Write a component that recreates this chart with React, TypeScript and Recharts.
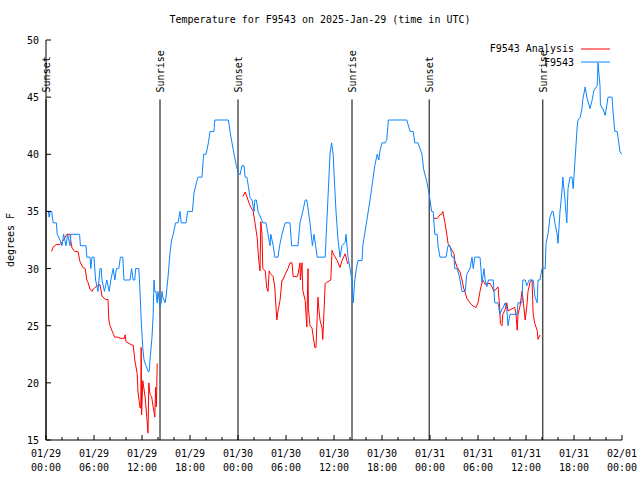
import React from 'react';
import { LineChart, Line, XAxis, YAxis, ReferenceLine } from 'recharts';

const FONT = "'DejaVu Sans Mono', monospace";
const FS = 10;

// hours since 2025-01-29 00:00 UTC, degrees F
const obsPoints: [number, number][] = [
  [0, 35], [0.3, 35], [0.4, 34.5], [0.5, 35], [0.7, 35], [0.9, 34], [1.3, 34], [1.4, 33], [1.75, 32.5], [2.0, 32],
  [2.2, 33], [2.5, 32], [2.7, 33], [3.0, 32], [3.1, 33], [4.2, 33], [4.3, 32], [5.0, 32], [5.1, 31], [5.5, 31],
  [5.6, 30], [5.75, 31], [6.0, 31], [6.2, 29], [6.5, 28], [6.75, 30], [6.9, 30], [7.0, 29], [7.3, 28], [7.6, 29],
  [7.9, 28], [8.1, 29], [8.4, 30], [8.6, 29], [8.8, 30], [9.1, 30], [9.3, 31], [9.6, 31], [9.75, 29], [10.5, 29],
  [10.7, 30], [10.9, 29], [11.1, 29], [11.2, 30], [11.6, 30], [11.75, 28], [11.9, 25.5], [12.1, 23], [12.25, 22],
  [12.5, 21.5], [12.75, 21], [12.9, 21], [13.0, 22], [13.25, 24], [13.4, 26], [13.5, 29], [13.6, 28], [13.75, 28],
  [13.9, 27], [14.0, 28], [14.25, 26.7], [14.4, 27], [14.5, 28], [14.6, 27.5], [14.9, 27], [15.0, 27.5], [15.3, 29.6],
  [15.5, 31.4], [15.7, 32.5], [15.9, 33], [16.2, 34], [16.5, 34], [16.75, 35], [16.9, 34], [17.5, 34], [17.7, 35],
  [18.3, 35], [18.5, 36.6], [18.8, 37.5], [19.0, 38], [19.5, 38], [19.7, 40], [20.0, 40], [20.3, 41], [20.5, 42],
  [21.0, 42], [21.1, 43], [22.8, 43], [23.0, 42], [23.4, 40.4], [23.8, 39], [24.0, 38.4], [24.25, 38.2], [24.5, 39],
  [24.75, 39], [24.9, 38], [25.1, 38], [25.3, 37.2], [25.5, 36.2], [25.75, 36], [26.0, 35], [26.1, 36], [26.3, 36],
  [26.5, 35], [27.0, 34.2], [27.1, 34], [27.5, 34], [27.75, 33], [28.0, 32], [28.1, 33], [28.4, 32], [28.6, 31],
  [29.0, 31], [29.2, 32], [29.5, 33], [29.9, 34], [30.5, 34], [30.7, 32], [31.5, 32], [31.75, 34], [32.1, 35],
  [32.4, 36], [32.6, 36], [32.8, 35], [33.0, 34], [33.3, 32], [33.5, 33], [33.7, 32], [33.9, 31], [34.9, 31],
  [35.1, 34], [35.3, 37], [35.5, 40], [35.7, 41], [35.9, 40], [36.1, 37], [36.25, 35], [36.5, 32.5], [36.75, 31],
  [37.0, 32], [37.4, 32.3], [37.5, 33], [37.75, 31], [38.0, 30], [38.25, 29], [38.4, 27], [38.6, 29], [38.8, 30],
  [39.0, 30.7], [39.5, 30.7], [39.6, 32], [40.1, 34.2], [40.5, 36], [40.9, 38], [41.1, 39], [41.4, 40], [41.6, 39.5],
  [41.75, 40.3], [42.0, 41], [42.4, 41], [42.6, 41.3], [42.8, 43], [45.1, 43], [45.5, 42], [45.9, 42], [46.1, 41],
  [46.5, 41], [46.75, 40.5], [47.0, 40], [47.2, 38.7], [47.6, 37.6], [47.9, 36.5], [48.0, 36], [48.2, 35], [48.4, 35],
  [48.6, 33], [48.9, 33], [49.0, 32], [49.25, 31], [50.0, 31], [50.25, 32], [50.5, 32], [50.75, 31], [51.0, 31],
  [51.1, 30], [51.4, 30], [51.6, 29.5], [51.75, 29], [52.0, 28], [52.4, 28], [52.6, 29.5], [53.0, 30], [53.25, 31],
  [53.4, 30], [53.6, 31], [54.25, 31], [54.5, 28.8], [54.6, 29.2], [54.75, 30], [54.9, 29], [55.1, 28.4], [55.3, 29],
  [55.9, 29], [56.1, 27], [56.5, 27], [56.75, 26], [57.0, 26.5], [57.1, 26.5], [57.4, 27], [57.6, 26.5], [57.75, 25],
  [58.0, 26], [58.9, 26], [59.0, 27], [59.5, 27], [59.6, 29], [59.9, 29], [60.1, 28.5], [60.4, 29], [60.9, 29],
  [61.1, 27.6], [61.4, 27], [61.5, 29], [61.75, 29], [62.0, 30], [62.4, 30], [62.5, 32.2], [62.75, 33], [63.0, 34.5],
  [63.25, 35], [63.4, 35], [63.6, 34], [63.9, 33], [64.0, 32.2], [64.25, 35], [64.5, 36.8], [64.6, 38], [64.9, 35.8],
  [65.1, 34], [65.25, 37], [65.5, 38], [65.75, 38], [65.9, 37], [66.1, 39.2], [66.4, 42.4], [66.5, 43], [66.75, 43.2],
  [67.0, 44], [67.1, 44.8], [67.4, 45.9], [67.6, 45], [68.0, 44], [68.25, 44.7], [68.5, 45.6], [68.9, 46], [69.0, 48],
  [69.25, 46], [69.3, 44.4], [69.5, 44], [69.6, 44], [69.9, 43.4], [70.1, 44.3], [70.25, 45], [70.75, 45], [70.9, 43.6],
  [71.1, 42], [71.4, 42], [71.5, 41.5], [71.75, 40.2], [72.0, 40],
];

const analysisPart1: [number, number][] = [
  [0.7, 31.5], [0.9, 31.9], [1.3, 32.1], [1.75, 32.1], [2.2, 32.5], [2.6, 33], [3.0, 33], [3.1, 32.4], [3.25, 31.8],
  [3.6, 31.5], [4.0, 31.5], [4.25, 30.6], [4.6, 30.1], [4.9, 30], [5.1, 29], [5.25, 28.8], [5.5, 28.2], [5.75, 28],
  [5.9, 28.2], [6.4, 28.5], [6.75, 28.6], [7.0, 27.6], [7.4, 27.3], [7.75, 27.3], [7.85, 25.5], [8.0, 25], [8.4, 24.3],
  [8.6, 24], [9.0, 24], [9.25, 23.9], [9.8, 23.9], [9.9, 24.2], [10.0, 23.6], [10.75, 23.3], [10.9, 23.3], [11.1, 22],
  [11.4, 20.8], [11.5, 19.2], [11.75, 17.8], [11.85, 17.8], [11.9, 23.1], [11.95, 17.2], [12.1, 20.2], [12.4, 18.7],
  [12.6, 17], [12.75, 15.6], [12.85, 20.0], [13.0, 19], [13.2, 18.8], [13.4, 17.9], [13.6, 17.0], [13.7, 19.6],
  [13.8, 17.9], [13.9, 21.7],
];

const analysisPart2: [number, number][] = [
  [24.6, 36.3], [24.9, 36.7], [25.1, 36.3], [25.5, 35.5], [25.75, 35.2], [25.9, 35], [26.1, 34.1], [26.4, 32.7],
  [26.5, 31.6], [26.6, 30.7], [26.75, 29.8], [26.85, 34.1], [27.0, 33], [27.1, 30], [27.4, 29.8], [27.6, 28.3],
  [27.75, 28], [27.9, 29.8], [28.0, 29.6], [28.4, 29.3], [28.6, 28.3], [28.85, 25.5], [29.0, 26.3], [29.25, 27.2],
  [29.5, 29], [29.6, 29], [29.9, 29.5], [30.25, 30], [30.5, 30.5], [30.75, 30.5], [30.9, 29.3], [31.4, 29.3],
  [31.5, 29.5], [31.75, 30.5], [31.8, 29], [32.0, 30.5], [32.1, 28.1], [32.4, 27.2], [32.6, 24.9], [32.75, 30],
  [32.8, 26.5], [33.0, 25], [33.25, 24.8], [33.6, 23.1], [33.75, 23.1], [33.9, 25.8], [34.0, 27.5], [34.1, 26.5],
  [34.25, 25.5], [34.5, 24.8], [34.6, 23.8], [34.9, 28.7], [35.1, 28.8], [35.6, 29], [35.75, 31.6], [35.9, 31.3],
  [36.4, 30.7], [36.75, 30.1], [37.0, 30.7], [37.4, 31.3], [37.6, 30.7], [37.75, 30.4],
];

const analysisPart3: [number, number][] = [
  [48.4, 34.4], [48.9, 34.4], [49.25, 34.7], [49.5, 34.8], [49.6, 35], [49.9, 33.9], [50.1, 33], [50.25, 32.2],
  [50.5, 31.9], [51.0, 31.3], [51.1, 30.7], [51.4, 30.1], [51.75, 29.7], [52.0, 29], [52.2, 28.3], [52.4, 27.9],
  [52.6, 27.4], [53.0, 27], [53.4, 26.7], [53.75, 26.6], [54.0, 27], [54.25, 28], [54.5, 28.8], [54.6, 29],
  [54.9, 28.6], [55.1, 28.7], [55.5, 28.7], [55.75, 28.4], [56.0, 28], [56.5, 28.4], [56.7, 26.7], [56.8, 25.2],
  [57.0, 25], [57.1, 26], [57.4, 26.4], [57.6, 27], [57.75, 26.3], [58.6, 26.6], [58.75, 26], [58.9, 24.6], [59.0, 26],
  [59.25, 26.7], [59.5, 28], [59.6, 27.5], [59.9, 25.5], [60.1, 26.7], [60.25, 28], [60.5, 28.8], [60.75, 29],
  [60.9, 26], [61.1, 25.2], [61.4, 24.6], [61.5, 23.8], [61.75, 24.2],
];

const xTickHours = [0, 2, 4, 6, 8, 10, 12, 14, 16, 18, 20, 22, 24, 26, 28, 30, 32, 34, 36, 38, 40, 42, 44, 46, 48, 50, 52, 54, 56, 58, 60, 62, 64, 66, 68, 70, 72];
const xDateLabels = ['01/29', '01/29', '01/29', '01/29', '01/30', '01/30', '01/30', '01/30', '01/31', '01/31', '01/31', '01/31', '02/01'];
const xTimeLabels = ['00:00', '06:00', '12:00', '18:00', '00:00', '06:00', '12:00', '18:00', '00:00', '06:00', '12:00', '18:00', '00:00'];
const yTickValues = [15, 20, 25, 30, 35, 40, 45, 50];

const sunTimes = [0, 14.25, 24, 38.25, 47.9, 62.1];
const sunLabels = ['Sunset', 'Sunrise', 'Sunset', 'Sunrise', 'Sunset', 'Sunrise'];
const sunLineTop = 44.8;

const toRows = (pts: [number, number][]) => pts.map(([t, v]) => ({ t, v }));

const RED = '#ff0000';
const BLUE = '#0a84ff';

const BottomTick = (props: any) => {
  const { x, y, payload } = props;
  const major = payload.value % 6 === 0;
  const idx = payload.value / 6;
  return (
    <g>
      <line x1={x} x2={x} y1={y} y2={y - (major ? 5 : 3)} stroke="#000" />
      {major && (
        <text x={x} y={y + 17} textAnchor="middle" fontFamily={FONT} fontSize={FS} fill="#000">
          <tspan x={x}>{xDateLabels[idx]}</tspan>
          <tspan x={x} dy={14}>{xTimeLabels[idx]}</tspan>
        </text>
      )}
    </g>
  );
};

const TopTick = (props: any) => {
  const { x, y, payload } = props;
  const major = payload.value % 6 === 0;
  return <line x1={x} x2={x} y1={y} y2={y + (major ? 5 : 3)} stroke="#000" />;
};

const LeftTick = (props: any) => {
  const { x, y, payload } = props;
  return (
    <g>
      <line x1={x} x2={x + 5} y1={y} y2={y} stroke="#000" />
      <text x={x - 7} y={y + 4} textAnchor="end" fontFamily={FONT} fontSize={FS} fill="#000">{payload.value}</text>
    </g>
  );
};

const RightTick = (props: any) => {
  const { x, y } = props;
  return <line x1={x} x2={x - 5} y1={y} y2={y} stroke="#000" />;
};

const sunLabel = (text: string) => (p: any) => {
  const vb = p.viewBox;
  const lx = vb.x + 4;
  const ly = vb.y - 7;
  return (
    <text x={lx} y={ly} transform={`rotate(-90, ${lx}, ${ly})`} textAnchor="start" fontFamily={FONT} fontSize={FS} fill="#000">
      {text}
    </text>
  );
};

const yLabel = (p: any) => {
  const vb = p.viewBox;
  const lx = vb.x + 14;
  const ly = vb.y + vb.height / 2;
  return (
    <text x={lx} y={ly} transform={`rotate(-90, ${lx}, ${ly})`} textAnchor="middle" fontFamily={FONT} fontSize={FS} fill="#000">
      degrees F
    </text>
  );
};

export default function App() {
  return (
    <div style={{ position: 'absolute', left: 0, top: 0, width: 640, height: 480, background: '#fff' }}>
      <LineChart width={640} height={480} margin={{ top: 40, right: 18, bottom: 0, left: 0 }}>
        <XAxis dataKey="t" type="number" domain={[0, 72]} ticks={xTickHours} interval={0} height={40}
          tickSize={0} tickMargin={0} tickLine={false} axisLine={{ stroke: '#000' }} tick={<BottomTick />} allowDataOverflow />
        <XAxis xAxisId="top" orientation="top" dataKey="t" type="number" domain={[0, 72]} ticks={xTickHours} interval={0} height={0}
          tickSize={0} tickMargin={0} tickLine={false} axisLine={{ stroke: '#000' }} tick={<TopTick />} allowDataOverflow />
        <YAxis type="number" domain={[15, 50]} ticks={yTickValues} interval={0} width={46}
          tickSize={0} tickMargin={0} tickLine={false} axisLine={{ stroke: '#000' }} tick={<LeftTick />} allowDataOverflow
          label={{ content: yLabel }} />
        <YAxis yAxisId="right" orientation="right" type="number" domain={[15, 50]} ticks={yTickValues} interval={0} width={0}
          tickSize={0} tickMargin={0} tickLine={false} axisLine={{ stroke: '#000' }} tick={<RightTick />} allowDataOverflow />
        {sunTimes.map((t, i) => (
          <ReferenceLine key={i} segment={[{ x: t, y: sunLineTop }, { x: t, y: 15 }]} stroke="#000" strokeWidth={1}
            label={{ content: sunLabel(sunLabels[i]) }} />
        ))}
        <Line data={toRows(analysisPart1)} dataKey="v" type="linear" stroke={RED} strokeWidth={1} dot={false} isAnimationActive={false} />
        <Line data={toRows(analysisPart2)} dataKey="v" type="linear" stroke={RED} strokeWidth={1} dot={false} isAnimationActive={false} />
        <Line data={toRows(analysisPart3)} dataKey="v" type="linear" stroke={RED} strokeWidth={1} dot={false} isAnimationActive={false} />
        <Line data={toRows(obsPoints)} dataKey="v" type="linear" stroke={BLUE} strokeWidth={1} dot={false} isAnimationActive={false} />
      </LineChart>
      <svg width={640} height={480} style={{ position: 'absolute', left: 0, top: 0, pointerEvents: 'none' }}>
        <text x={320} y={23} textAnchor="middle" fontFamily={FONT} fontSize={FS} fill="#000">
          Temperature for F9543 on 2025-Jan-29 (time in UTC)
        </text>
        <text x={574} y={52} textAnchor="end" fontFamily={FONT} fontSize={FS} fill="#000">F9543 Analysis</text>
        <line x1={581} x2={610} y1={49} y2={49} stroke={RED} />
        <text x={574} y={66} textAnchor="end" fontFamily={FONT} fontSize={FS} fill="#000">F9543</text>
        <line x1={581} x2={610} y1={62} y2={62} stroke={BLUE} />
      </svg>
    </div>
  );
}
